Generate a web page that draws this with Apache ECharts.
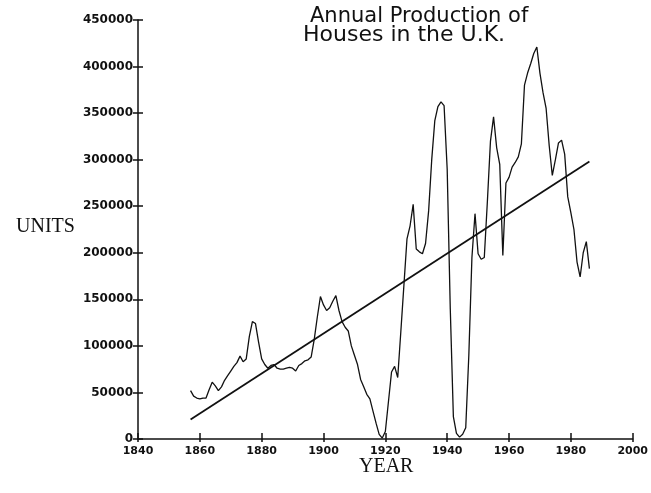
<!DOCTYPE html>
<html><head><meta charset="utf-8">
<script src="https://cdn.jsdelivr.net/npm/echarts@6/dist/echarts.min.js"></script>
<style>html,body{margin:0;padding:0;background:#fff}#c{width:651px;height:493px}</style>
</head><body><div id="c"></div>
<script>
// ---- data ----
const years = [1857,1858,1859,1860,1861,1862,1863,1864,1865,1866,1867,1868,1869,1870,1871,1872,1873,1874,1875,1876,1877,1878,1879,1880,1881,1882,1883,1884,1885,1886,1887,1888,1889,1890,1891,1892,1893,1894,1895,1896,1897,1898,1899,1900,1901,1902,1903,1904,1905,1906,1907,1908,1909,1910,1911,1912,1913,1914,1915,1916,1917,1918,1919,1920,1921,1922,1923,1924,1925,1926,1927,1928,1929,1930,1931,1932,1933,1934,1935,1936,1937,1938,1939,1940,1941,1942,1943,1944,1945,1946,1947,1948,1949,1950,1951,1952,1953,1954,1955,1956,1957,1958,1959,1960,1961,1962,1963,1964,1965,1966,1967,1968,1969,1970,1971,1972,1973,1974,1975,1976,1977,1978,1979,1980,1981,1982,1983,1984,1985,1986];
const units = [52000,46000,44000,43000,44000,44000,53000,61000,57000,52000,56000,63000,68000,73000,78000,82000,89000,83000,86000,110000,126000,124000,104000,86000,80000,76000,79000,80000,76000,75000,75000,76000,77000,76000,73000,79000,81000,84000,85000,88000,107000,131000,153000,144000,138000,141000,148000,154000,138000,126000,120000,116000,100000,90000,80000,64000,56000,48000,43000,30000,17000,5000,1000,8000,40000,72000,78000,66000,115000,165000,215000,229000,252000,204000,201000,199000,210000,245000,300000,342000,357000,362000,358000,290000,140000,24000,6000,2000,5000,12000,90000,195000,242000,199000,193000,195000,255000,320000,346000,313000,295000,197000,275000,281000,292000,297000,303000,317000,380000,393000,403000,414000,421000,393000,372000,355000,315000,283000,300000,318000,321000,306000,260000,243000,225000,190000,174000,200000,212000,183000];
const trendYears = [1857, 1986];
const trendUnits = [21000, 298000];
const titleLines = ["Annual Production of", "Houses in the U.K."];
const xName = "YEAR";
const yName = "UNITS";

const chart = echarts.init(document.getElementById('c'), null, {renderer: 'canvas'});
const ink = '#111';
const labelFont = {color: ink, fontFamily: 'DejaVu Sans', fontWeight: 'bold'};
chart.setOption({
  animation: false,
  backgroundColor: '#fff',
  grid: {left: 138, right: 15, top: 20, bottom: 54, containLabel: false},
  xAxis: [
    {type: 'value', min: 1840, max: 2000, interval: 20, position: 'bottom',
     axisLine: {show: true, lineStyle: {color: ink, width: 1.5}},
     axisTick: {show: true, inside: true, length: 6, lineStyle: {color: ink, width: 1.5}},
     axisLabel: Object.assign({fontSize: 11, margin: 7, formatter: v => String(v)}, labelFont),
     splitLine: {show: false}},
    {type: 'value', min: 1840, max: 2000, interval: 20, position: 'bottom',
     axisLine: {show: false},
     axisTick: {show: true, inside: false, length: 3, lineStyle: {color: ink, width: 1.5}},
     axisLabel: {show: false}, splitLine: {show: false}}
  ],
  yAxis: [
    {type: 'value', min: 0, max: 450000, interval: 50000, position: 'left',
     axisLine: {show: true, lineStyle: {color: ink, width: 1.5}},
     axisTick: {show: true, inside: false, length: 5, lineStyle: {color: ink, width: 1.5}},
     axisLabel: Object.assign({fontSize: 12, margin: 5, formatter: v => String(v)}, labelFont),
     splitLine: {show: false}},
    {type: 'value', min: 0, max: 450000, interval: 50000, position: 'left',
     axisLine: {show: false},
     axisTick: {show: true, inside: true, length: 5, lineStyle: {color: ink, width: 1.5}},
     axisLabel: {show: false}, splitLine: {show: false}}
  ],
  series: [
    {type: 'line', xAxisIndex: 0, yAxisIndex: 0, symbol: 'none',
     data: years.map((y, i) => [y, units[i]]),
     lineStyle: {color: ink, width: 1.3}},
    {type: 'line', xAxisIndex: 0, yAxisIndex: 0, symbol: 'none',
     data: trendYears.map((y, i) => [y, trendUnits[i]]),
     lineStyle: {color: ink, width: 1.8}}
  ],
  graphic: [
    {type: 'text', left: 310, top: 6, style: {text: titleLines[0], font: '21px "DejaVu Sans"', fill: ink}},
    {type: 'text', left: 303, top: 24, style: {text: titleLines[1], font: '22px "DejaVu Sans"', fill: ink}},
    {type: 'text', left: 16, top: 217, style: {text: yName, font: '20px "Liberation Serif"', fill: ink}},
    {type: 'text', left: 359, top: 457, style: {text: xName, font: '20px "Liberation Serif"', fill: ink}}
  ]
});
</script>
</body></html>
